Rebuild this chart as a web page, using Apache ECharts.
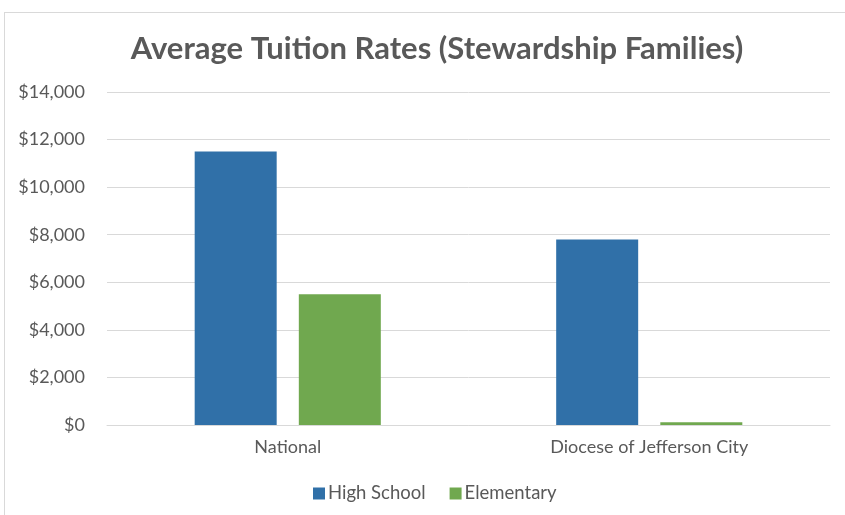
<!DOCTYPE html>
<html><head><meta charset="utf-8">
<script src="https://cdn.jsdelivr.net/npm/echarts@6/dist/echarts.min.js"></script>
<style>
html,body{margin:0;padding:0;background:#fff;overflow:hidden;}
#frame{position:absolute;left:4px;top:12px;width:850px;height:520px;border:1px solid #d9d9d9;box-sizing:border-box;}
#c{position:absolute;left:0;top:0;width:845px;height:515px;}
</style></head>
<body><div id="frame"></div><div id="c"></div>
<script>
const categories = ['National', 'Diocese of Jefferson City'];
const highSchool = [11500, 7800];
const elementary = [5500, 120];
const seriesNames = ['High School', 'Elementary'];
const chart = echarts.init(document.getElementById('c'));
const txt = '#595959';
chart.setOption({
  animation: false,
  title: {text: 'Average Tuition Rates (Stewardship Families)', left: 432, top: 28, textAlign: 'center',
    textStyle: {fontFamily: 'Lato', fontSize: 31, fontWeight: 'bold', color: txt}},
  legend: {bottom: 12, left: 313, itemWidth: 12, itemHeight: 12, itemGap: 24, icon: 'rect', padding: 0,
    textStyle: {fontFamily: 'Lato', fontSize: 18.5, color: txt, padding: [0, 0, 0, -2]}},
  grid: {left: 107, right: 15, top: 92, bottom: 90},
  xAxis: {type: 'category', data: categories,
    axisLine: {lineStyle: {color: '#d9d9d9'}}, axisTick: {show: false},
    axisLabel: {fontFamily: 'Lato', fontSize: 18, color: txt, margin: 13}},
  yAxis: {type: 'value', min: 0, max: 14000, interval: 2000,
    axisLine: {show: false}, axisTick: {show: false},
    splitLine: {lineStyle: {color: '#d9d9d9'}},
    axisLabel: {fontFamily: 'Lato', fontSize: 18, color: txt, margin: 22,
      formatter: v => '$' + v.toLocaleString('en-US')}},
  series: [
    {name: seriesNames[0], type: 'bar', data: highSchool, barWidth: 82, barGap: '27%', itemStyle: {color: '#3070A8'}},
    {name: seriesNames[1], type: 'bar', data: elementary, barWidth: 82, itemStyle: {color: '#70A84F'}}
  ]
});
</script></body></html>
